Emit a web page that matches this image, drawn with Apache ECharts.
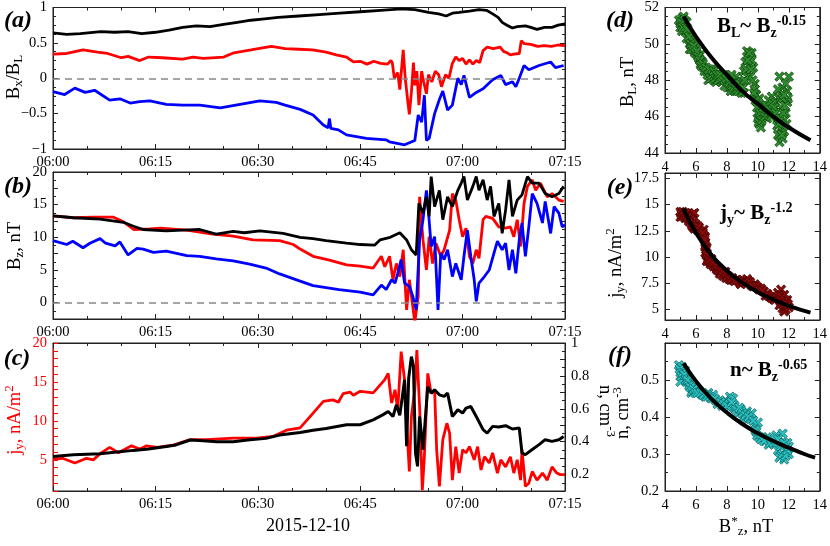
<!DOCTYPE html>
<html><head><meta charset="utf-8">
<script src="https://cdn.jsdelivr.net/npm/echarts@6/dist/echarts.min.js"></script>
<style>html,body{margin:0;padding:0;background:#fff}#c{width:830px;height:546px}</style>
</head><body><div id="c"></div><script>
const F = 'Liberation Serif';
const timeLabels = ['06:00','06:15','06:30','06:45','07:00','07:15'];

// ---- panel (a): Bx/BL, time in minutes after 06:00 ----
const aBlack = [[0,0.64],[2,0.62],[4,0.63],[7,0.66],[9,0.65],[11,0.66],[13,0.63],[15,0.65],[17,0.68],[19,0.72],[21,0.74],[23,0.73],[25,0.76],[27,0.79],[29,0.82],[31,0.84],[33,0.86],[36,0.88],[39,0.90],[42,0.92],[45,0.94],[48,0.96],[51,0.98],[53,0.97],[55,0.93],[56.5,0.91],[57.6,0.88],[58.5,0.92],[59.5,0.93],[61,0.95],[62.4,0.97],[63.5,0.96],[64.4,0.91],[65.2,0.86],[65.8,0.79],[66.5,0.75],[67.3,0.71],[68,0.73],[69.2,0.74],[70,0.72],[70.9,0.69],[72,0.72],[73.1,0.72],[74,0.75],[75,0.77]];
const aRed = [[0,0.34],[2,0.35],[4.4,0.40],[6.5,0.37],[8,0.35],[10,0.29],[11,0.31],[12.7,0.25],[14,0.30],[16,0.29],[19,0.27],[20.5,0.30],[22,0.28],[25,0.30],[26.5,0.36],[29,0.40],[32,0.45],[34,0.42],[36,0.41],[38,0.40],[40,0.37],[41.5,0.33],[43,0.30],[44,0.23],[45,0.24],[46,0.20],[47,0.24],[48,0.21],[49,0.20],[49.5,0.25],[49.7,0.22],[50,0.0],[50.5,0.08],[50.8,-0.16],[51.3,0.40],[51.6,0.0],[52,-0.35],[52.2,-0.51],[52.5,-0.2],[52.8,0.22],[53,-0.1],[53.3,0.1],[53.6,-0.38],[54,0.1],[54.3,-0.05],[54.7,-0.22],[55,0.05],[55.5,-0.05],[56,0.1],[56.5,0.05],[56.9,-0.12],[57.5,0.05],[58,0.0],[58.5,0.21],[59,0.30],[59.5,0.25],[60,0.28],[60.5,0.2],[61,0.26],[61.5,0.2],[62,0.25],[62.5,0.22],[63,0.39],[63.6,0.44],[64.5,0.42],[65.5,0.44],[66,0.38],[66.5,0.36],[67,0.33],[67.5,0.34],[68.3,0.35],[68.6,0.53],[69,0.49],[70,0.48],[71,0.45],[72,0.46],[73,0.45],[74,0.47],[75,0.46]];
const aBlue = [[0,-0.19],[1.7,-0.23],[3.2,-0.14],[4.7,-0.2],[6.1,-0.17],[8.3,-0.31],[9.8,-0.29],[11.3,-0.35],[12.7,-0.33],[14.2,-0.32],[16.6,-0.37],[19,-0.38],[21.5,-0.38],[24.5,-0.42],[27.4,-0.37],[30.3,-0.32],[32.7,-0.34],[34,-0.38],[36.2,-0.44],[38.1,-0.52],[39.6,-0.66],[40.3,-0.70],[40.5,-0.57],[40.7,-0.71],[41.8,-0.73],[43,-0.80],[45.9,-0.85],[48.8,-0.87],[49.3,-0.90],[51.5,-0.94],[53,-0.88],[53.5,-0.52],[54,-0.62],[54.4,-0.24],[54.7,-0.88],[55.1,-0.85],[55.9,-0.50],[56.6,-0.30],[57.1,-0.18],[57.8,-0.45],[58.5,-0.38],[59.3,0.0],[59.8,-0.09],[60.2,0.04],[61,-0.27],[62,-0.2],[63,-0.15],[64.4,-0.02],[65.6,0.04],[66.3,-0.09],[67.3,-0.05],[67.8,-0.12],[68.3,0.0],[69,0.18],[69.7,0.12],[71.2,0.18],[72.9,0.23],[73.6,0.15],[74.8,0.18]];

// ---- panel (b): Bz, nT ----
const bBlack = [[0,13.3],[3,13.0],[6.9,12.8],[10.3,12.3],[11.8,11.7],[13.2,11.2],[16.6,11.0],[19,11.1],[21.5,11.2],[23.9,10.5],[26.4,10.9],[28,10.7],[30.3,11.0],[33.7,10.6],[36.2,10.0],[38.1,9.8],[40,9.5],[43,9.1],[45,8.9],[47.1,8.8],[47.9,9.6],[49.4,10.0],[50.8,10.7],[51.8,9.6],[52.5,8.1],[53.2,7.3],[53.6,15.2],[54.2,13.7],[54.7,16.2],[55.1,13.2],[55.4,19.3],[55.9,14.7],[56.6,17.2],[57.1,12.7],[57.8,16.2],[58.5,14.7],[59.3,17.2],[59.8,18.3],[60.2,19.3],[60.7,15.7],[61.5,17.8],[62,19.3],[62.4,17.2],[63,18.8],[63.6,15.7],[64.1,17.8],[64.6,13.2],[65.3,15.2],[65.8,10.6],[66.3,14.2],[66.8,18.8],[67.3,13.2],[68,15.7],[68.7,16.5],[69.5,19.3],[70.2,18.3],[71.2,18.3],[72.1,16.7],[73.1,16.2],[74.1,16.7],[74.8,17.8]];
const bRed = [[0,13.3],[3,13.0],[5.9,13.1],[8.8,13.1],[10.3,12.4],[11.8,11.2],[14.2,11.3],[15.7,11.4],[19.6,11.1],[23.4,10.5],[26.4,10.2],[29.3,9.6],[33.2,9.5],[35.2,8.9],[36.2,8.2],[38.1,7.1],[40.5,6.5],[43,5.8],[45,5.6],[46.9,5.3],[48.1,7.1],[48.6,5.5],[49.3,7.1],[49.8,3.5],[50.3,6.0],[50.8,4.0],[51.3,8.1],[51.8,-1.1],[52.2,3.5],[53,-3],[53.5,1.0],[53.7,16.2],[54.2,9.6],[54.7,5.0],[55.1,10.1],[55.6,6.0],[56.1,9.1],[56.8,7.1],[57.3,8.1],[58.1,11.1],[58.5,16.7],[59,15.7],[59.5,12.7],[60,10.1],[60.5,11.4],[61,7.1],[61.5,6.0],[62,8.1],[62.4,6.8],[63,12.7],[63.4,13.2],[64.4,12.9],[65.3,11.6],[66.3,11.4],[67,11.6],[67.5,10.1],[68,12.7],[68.5,8.6],[69,15.2],[69.5,17.8],[70.2,18.8],[70.7,17.2],[71.4,18.3],[72.4,16.2],[73.1,16.7],[74.1,15.7],[74.8,15.5]];
const bBlue = [[0,9.5],[2,8.9],[2.9,9.4],[4.4,8.4],[5.4,9.1],[6.9,9.8],[7.7,9.1],[9.1,8.7],[9.8,9.3],[11,7.3],[12.3,8.3],[13.2,8.2],[14.7,7.7],[16.6,7.9],[19.6,7.2],[21.5,7.1],[23.9,6.7],[26.4,6.4],[28.8,5.9],[31.2,5.3],[33.2,4.4],[36.2,3.3],[38.1,2.6],[41.9,2.0],[45,1.6],[46.9,1.2],[48.1,2.7],[48.8,2.0],[49.6,3.5],[50.1,3.0],[50.5,4.5],[51,6.6],[51.5,3.0],[52.2,2.5],[52.7,1.0],[53.2,-1.1],[53.7,9.6],[54.2,12.7],[54.7,17.2],[54.9,15.2],[55.4,8.6],[55.9,10.1],[56.4,-1.1],[56.8,7.6],[57.3,6.6],[57.8,8.1],[58.5,4.0],[59,6.0],[59.8,3.5],[60.2,7.1],[60.7,11.1],[61.2,7.1],[61.7,3.5],[62,0.2],[62.4,3.0],[63.2,4.0],[63.9,5.0],[64.6,7.6],[65.1,9.4],[65.8,8.1],[66.3,9.1],[66.8,5.0],[67.3,8.1],[67.8,4.5],[68.3,9.6],[68.7,12.2],[69.2,7.1],[69.7,11.6],[70.2,16.7],[70.9,15.2],[71.7,12.2],[72.1,15.5],[72.9,10.6],[73.4,14.7],[74.1,13.7],[74.6,11.6],[75,11.9]];

// ---- panel (c): jy (left, red) and n (right, black) ----
const cJy = [[0,5.1],[1.4,5.2],[3.2,4.6],[4.9,5.2],[5.9,5.0],[6.9,5.8],[8.3,6.6],[9.6,5.9],[11.5,6.8],[12.7,6.4],[13.7,6.8],[15.2,6.6],[17.6,6.9],[20.1,7.6],[22.5,7.6],[26.4,7.8],[29.8,7.8],[32.2,8.0],[34.2,8.8],[36.2,9.1],[38.1,11.0],[39.6,12.5],[41,12.7],[41.8,12.4],[42.5,13.5],[43.5,13.7],[44,13.3],[45,13.8],[46,13.7],[46.9,13.6],[47.9,14.6],[48.6,15.3],[49.1,16.1],[49.6,12.3],[50.1,14.0],[50.5,11.4],[51,18.9],[51.5,15.3],[51.8,9.7],[52.2,3.5],[52.5,10.6],[53,14.0],[53.3,19.1],[53.7,11.8],[54.1,1.1],[54.4,5.4],[54.9,16.1],[55.4,13.5],[55.9,14.0],[56.2,6.3],[56.6,1.6],[57.1,7.6],[57.7,9.7],[58.1,8.4],[58.5,2.4],[59,6.7],[59.5,3.3],[60,6.3],[60.5,5.9],[61,6.7],[61.7,5.0],[62.2,6.7],[62.7,3.7],[63.2,5.4],[63.9,4.6],[64.4,5.9],[65.1,3.3],[65.6,5.0],[66.3,4.1],[67,5.4],[67.5,3.3],[68,5.0],[68.5,2.4],[68.7,6.3],[69.2,1.6],[69.7,2.0],[70.2,3.5],[70.9,2.4],[71.7,3.3],[72.4,2.4],[73.1,4.1],[73.8,3.3],[74.3,3.1],[75,3.1]];
const cN = [[0,0.31],[3,0.32],[6.9,0.327],[9,0.335],[11.8,0.347],[14,0.355],[16.6,0.37],[18,0.38],[20.1,0.41],[22,0.405],[24,0.40],[26.4,0.40],[28.5,0.41],[31.2,0.42],[33.2,0.44],[36.2,0.456],[38.1,0.47],[40,0.48],[43,0.503],[45,0.503],[46.9,0.533],[48.3,0.563],[49.1,0.584],[49.8,0.553],[50.3,0.624],[50.8,0.56],[51.5,0.776],[51.8,0.372],[52.1,0.786],[52.5,0.917],[52.8,0.86],[53.1,0.33],[53.4,0.25],[53.7,0.553],[54.2,0.352],[54.6,0.574],[54.9,0.735],[55.4,0.695],[55.9,0.715],[56.6,0.685],[57.3,0.675],[57.8,0.695],[58.5,0.553],[59.3,0.594],[60,0.574],[60.5,0.604],[61.2,0.614],[62,0.553],[63,0.473],[63.6,0.452],[64.4,0.493],[65.3,0.489],[66.3,0.497],[67.3,0.477],[68.3,0.483],[68.7,0.331],[69.2,0.321],[70.2,0.352],[71.2,0.382],[72.1,0.412],[73.1,0.402],[74.1,0.412],[74.8,0.432]];

// ---- panel (d): BL vs Bz* ----
const dPts = [[4.9,51.3],[5.0,50.9],[5.1,51.4],[5.2,51.0],[5.0,51.1],[5.3,50.7],[5.2,51.5],[5.4,51.2],[5.5,50.6],[5.1,50.7],[5.4,50.3],[5.6,50.2],[5.7,49.9],[5.8,50.1],[5.9,49.6],[6.0,49.8],[5.6,49.7],[6.1,49.4],[6.2,49.2],[6.3,48.9],[6.4,49.0],[6.5,48.7],[6.3,49.4],[6.7,48.5],[6.9,48.3],[7.0,48.6],[7.2,48.2],[7.4,48.4],[7.6,48.1],[7.8,48.3],[7.3,47.9],[6.8,48.0],[8.0,47.9],[8.2,47.6],[8.4,47.9],[8.5,47.4],[8.7,47.8],[8.9,47.5],[9.1,47.3],[8.6,48.2],[8.3,48.3],[9.0,47.9],[9.1,48.5],[9.2,49.0],[9.3,49.6],[9.4,48.8],[9.5,49.3],[9.6,49.5],[9.7,48.7],[9.5,48.2],[9.3,48.2],[9.6,49.1],[9.8,47.8],[9.9,47.2],[10.0,46.8],[9.8,47.5],[10.1,47.0],[10.0,46.2],[10.1,45.6],[10.2,45.4],[10.0,45.9],[10.3,46.1],[10.2,46.6],[10.5,46.3],[10.6,45.9],[10.8,46.6],[10.9,47.1],[11.0,46.3],[11.1,46.8],[10.7,46.9],[11.3,45.0],[11.4,44.6],[11.5,45.4],[11.3,46.0],[11.6,44.8],[11.7,45.8],[11.5,46.5],[11.4,47.0],[11.8,46.2],[11.9,47.4],[11.6,47.6],[11.4,48.2],[12.0,48.2],[11.9,46.8],[11.7,45.2],[11.5,47.2],[11.8,47.8],
  [5.05,51.2],[5.15,50.9],[5.25,51.3],[5.35,50.9],[5.45,50.8],[5.55,50.4],[5.65,50.0],[5.75,49.7],[5.85,49.9],[5.95,49.5],[6.05,49.6],[6.15,49.3],[6.25,49.1],[6.35,48.8],[6.45,48.9],[6.55,48.5],[6.65,48.7],[6.75,48.3],[6.85,48.6],[6.95,48.1],[7.05,48.3],[7.15,48.5],[7.25,48.1],[7.35,48.3],[7.45,48.0],[7.55,48.3],[7.65,47.9],[7.75,48.0],[7.85,47.7],[7.95,48.1],[8.05,47.6],[8.15,47.9],[8.25,47.4],[8.35,47.7],[8.45,47.6],[8.55,47.9],[8.65,47.5],[8.75,47.4],[8.85,47.8],[8.95,47.3],[9.05,47.6],[9.15,48.0],[9.25,48.6],[9.35,49.1],[9.45,49.5],[9.55,48.6],[9.65,48.0],[9.75,47.3],[9.85,46.9],[9.95,46.5],[10.05,45.7],[10.15,46.2],[10.25,45.8],[10.35,46.5],[10.45,46.0],[10.55,46.6],[10.65,46.2],[10.75,46.4],[10.85,46.0],[10.95,46.7],[11.05,46.5],[11.15,46.2],[11.25,45.5],[11.35,45.6],[11.45,45.9],[11.55,45.0],[11.65,46.2],[11.75,46.6],[11.85,45.6],[11.95,47.0],[11.6,47.0],[11.3,47.5],[11.7,47.2]];
const dFit = [[5.2,51.5],[6,50.4],[7,49.25],[8,48.3],[9,47.4],[10,46.7],[11,46.0],[12,45.4],[13.4,44.7]];

// ---- panel (e): jy vs Bz* ----
const ePts = [[5.0,14.3],[5.1,13.9],[5.2,14.2],[5.3,13.7],[5.4,14.1],[5.5,13.6],[5.0,13.8],[5.6,14.0],[5.8,14.1],[5.9,14.2],[5.7,13.2],[5.8,12.9],[6.0,13.1],[6.1,12.6],[5.9,12.7],[6.2,12.8],[6.3,12.4],[6.4,12.1],[6.5,12.6],[6.6,11.9],[6.6,11.4],[6.7,10.9],[6.6,10.4],[6.8,10.0],[6.7,9.6],[6.9,9.5],[7.1,9.3],[7.3,9.0],[7.0,9.8],[7.4,8.9],[7.6,8.6],[7.8,8.3],[8.0,8.1],[8.2,8.0],[8.4,7.8],[7.9,8.6],[8.6,7.8],[8.8,7.6],[9.0,7.8],[9.2,7.5],[9.4,7.7],[9.6,7.3],[9.8,7.4],[10.0,7.1],[9.3,7.9],[8.9,7.4],[10.2,7.0],[10.4,6.7],[10.6,6.5],[10.8,6.2],[11.0,6.0],[10.5,6.3],[11.3,6.6],[11.4,6.1],[11.5,5.6],[11.6,5.1],[11.7,4.8],[11.8,5.4],[11.9,5.9],[11.5,6.9],[11.7,6.4],[11.4,5.4],[11.8,5.0],[12.0,5.2],
  [5.05,14.1],[5.15,14.3],[5.25,13.9],[5.35,14.2],[5.45,13.8],[5.55,13.4],[5.65,13.6],[5.75,13.0],[5.85,13.3],[5.95,12.9],[6.05,12.8],[6.15,12.9],[6.25,12.5],[6.35,12.2],[6.45,12.3],[6.55,11.7],[6.6,11.1],[6.65,10.7],[6.7,10.2],[6.75,9.8],[6.85,9.7],[6.95,9.3],[7.05,9.5],[7.15,9.1],[7.25,9.2],[7.35,8.8],[7.45,8.7],[7.55,8.4],[7.65,8.5],[7.75,8.2],[7.85,8.4],[7.95,8.0],[8.05,8.2],[8.15,7.9],[8.25,7.8],[8.35,8.0],[8.5,7.7],[8.7,7.8],[9.1,7.6],[9.5,7.6],[9.7,7.2],[9.9,7.2],[10.1,6.9],[10.3,6.8],[10.7,6.3],[10.9,6.1],[11.1,5.9],[11.35,6.3],[11.45,5.8],[11.55,6.2],[11.65,5.5],[11.75,5.9],[11.85,5.6],[11.95,5.5]];
const eFit = [[5.2,14.6],[6,12.3],[7,10.2],[8,8.7],[9,7.55],[10,6.65],[11,5.95],[12,5.35],[13.4,4.7]];

// ---- panel (f): n vs Bz* ----
const fPts = [[4.9,0.54],[5.0,0.52],[5.1,0.535],[5.2,0.505],[5.3,0.525],[5.0,0.495],[5.4,0.51],[5.5,0.495],[5.6,0.49],[5.8,0.475],[5.7,0.465],[6.0,0.47],[5.9,0.485],[6.2,0.47],[6.4,0.46],[6.6,0.455],[6.8,0.465],[7.0,0.45],[7.1,0.46],[7.3,0.445],[7.5,0.44],[7.7,0.43],[7.9,0.445],[8.1,0.425],[8.2,0.455],[8.4,0.45],[8.5,0.43],[8.7,0.41],[8.9,0.42],[9.1,0.40],[9.3,0.415],[9.5,0.395],[9.6,0.41],[9.0,0.395],[9.8,0.375],[9.9,0.36],[10.1,0.345],[10.0,0.385],[10.3,0.345],[10.5,0.335],[10.7,0.325],[10.9,0.335],[10.6,0.345],[11.2,0.35],[11.4,0.33],[11.3,0.31],[11.5,0.295],[11.7,0.285],[11.8,0.31],[11.9,0.33],[11.6,0.355],[12.0,0.30],[11.4,0.29],
  [4.95,0.53],[5.05,0.51],[5.15,0.52],[5.25,0.515],[5.35,0.50],[5.45,0.50],[5.55,0.485],[5.65,0.48],[5.75,0.47],[5.85,0.475],[5.95,0.465],[6.1,0.465],[6.3,0.465],[6.5,0.46],[6.7,0.455],[6.9,0.455],[7.2,0.45],[7.4,0.435],[7.6,0.44],[7.8,0.435],[8.0,0.43],[8.3,0.44],[8.6,0.42],[8.8,0.425],[9.0,0.41],[9.2,0.405],[9.4,0.40],[9.7,0.39],[9.85,0.365],[9.95,0.35],[10.2,0.34],[10.4,0.335],[10.8,0.33],[11.0,0.33],[11.1,0.34],[11.3,0.34],[11.5,0.32],[11.6,0.30],[11.7,0.33],[11.8,0.295],[11.9,0.31],[12.0,0.32]];
const fFit = [[5.2,0.545],[6,0.497],[7,0.449],[8,0.412],[9,0.381],[10,0.356],[11,0.335],[12,0.317],[13,0.300],[13.7,0.290]];

// tick labels
const bTicks = [0,5,10,15,20];
const cLeftTicks = [5,10,15,20];
const cRightTicks = [0.2,0.4,0.6,0.8,1];
const eTicks = [5,7.5,10,12.5,15,17.5];
const fTicks = [0.2,0.3,0.4,0.5];

const LC = '#222';
const grids = [
  {left:53, top:7, width:512, height:142},
  {left:53, top:172, width:512, height:147},
  {left:53, top:343, width:512, height:148},
  {left:665, top:5, width:157, height:148},
  {left:665, top:173, width:157, height:147},
  {left:665, top:343, width:157, height:148}
];

function axis(kind, g, pos, min, max, o) {
  o = o || {};
  const col = o.color || LC;
  const a = {
    type:'value', gridIndex:g, position:pos, min:min, max:max,
    axisLine:{show:true, onZero:false, lineStyle:{color:col, width:1}},
    axisTick:{show:true, inside:true, length:5, lineStyle:{color:col}},
    minorTick:{show: o.minor != null, splitNumber:o.minor || 2, length:3, lineStyle:{color:col}},
    splitLine:{show:false},
    axisLabel:{show: !!o.labels, color: o.labelColor || '#000', fontFamily:F, fontSize:14.5, margin: o.margin || 6,
      formatter: o.fmt || (v => String(+v.toFixed(3)).replace('-', '\u2212'))}
  };
  if (o.interval != null) a.interval = o.interval;
  if (o.custom) { a.axisLabel.customValues = o.custom; }
  if (o.tickCustom) { a.axisTick.customValues = o.tickCustom; }
  return a;
}
const tfmt = v => timeLabels[Math.round(v / 15)];

const xAxes = [];
const yAxes = [];
for (let g = 0; g < 3; g++) {
  xAxes.push(axis('x', g, 'bottom', 0, 75, {interval:15, minor:3, labels:true, fmt:tfmt}));
  xAxes.push(axis('x', g, 'top', 0, 75, {interval:15, minor:3}));
}
for (let g = 3; g < 6; g++) {
  xAxes.push(axis('x', g, 'bottom', 4, 14, {interval:2, minor:2, labels:true, margin:7}));
  xAxes.push(axis('x', g, 'top', 4, 14, {interval:2, minor:2}));
}
yAxes.push(axis('y', 0, 'left', -1, 1, {interval:0.5, minor:4, labels:true}));
yAxes.push(axis('y', 0, 'right', -1, 1, {interval:0.5, minor:4}));
yAxes.push(axis('y', 1, 'left', -2.5, 20, {interval:2.5, minor:2, labels:true, custom:bTicks}));
yAxes.push(axis('y', 1, 'right', -2.5, 20, {interval:2.5, minor:2}));
yAxes.push(axis('y', 2, 'left', 1, 20, {interval:1, labels:true, custom:cLeftTicks, color:'#ff0000', labelColor:'#ff0000'}));
yAxes.push(axis('y', 2, 'right', 0.1, 1, {interval:0.1, minor:2, labels:true, custom:cRightTicks}));
yAxes.push(axis('y', 3, 'left', 44, 52, {interval:2, minor:4, labels:true}));
yAxes.push(axis('y', 3, 'right', 44, 52, {interval:2, minor:4}));
yAxes.push(axis('y', 4, 'left', 4, 18, {interval:0.5, labels:true, custom:eTicks, tickCustom:eTicks}));
yAxes.push(axis('y', 4, 'right', 4, 18, {interval:0.5, tickCustom:eTicks}));
yAxes.push(axis('y', 5, 'left', 0.2, 0.6, {interval:0.1, minor:2, labels:true, custom:fTicks}));
yAxes.push(axis('y', 5, 'right', 0.2, 0.6, {interval:0.1, minor:2}));

function line(xi, yi, data, color, w, extra) {
  return Object.assign({type:'line', xAxisIndex:xi, yAxisIndex:yi, data:data, symbol:'none', showSymbol:false,
    lineStyle:{color:color, width:w}, itemStyle:{color:color}, animation:false, clip:true, z:3}, extra || {});
}
const zeroLine = {silent:true, symbol:['none','none'], label:{show:false}, animation:false,
  lineStyle:{color:'#888', type:[7,5], width:1.5}, data:[{yAxis:0}]};
const XS = 'path://M2,0 L5,3 L8,0 L10,2 L7,5 L10,8 L8,10 L5,7 L2,10 L0,8 L3,5 L0,2 Z';
function scat(xi, yi, data, fill, border) {
  return {type:'scatter', xAxisIndex:xi, yAxisIndex:yi, data:data, symbol:XS, symbolSize:9.5,
    itemStyle:{color:fill, borderColor:border, borderWidth:0.7, opacity:1}, animation:false, z:2};
}

const series = [
  line(0, 0, aBlack, '#000', 2.8, {markLine: zeroLine}),
  line(0, 0, aRed, '#ff0000', 2.8),
  line(0, 0, aBlue, '#0000ff', 2.8),
  line(2, 2, bRed, '#ff0000', 2.8, {markLine: zeroLine}),
  line(2, 2, bBlue, '#0000ff', 2.8),
  line(2, 2, bBlack, '#000', 2.8),
  line(4, 4, cJy, '#ff0000', 2.8),
  line(4, 5, cN, '#000', 3),
  scat(6, 6, dPts, '#2e8b2e', '#0b3d0b'),
  line(6, 6, dFit, '#000', 4, {smooth:true}),
  scat(8, 8, ePts, '#8b0a0a', '#3a0000'),
  line(8, 8, eFit, '#000', 4, {smooth:true}),
  scat(10, 10, fPts, '#2bc0c0', '#0d5c5c'),
  line(10, 10, fFit, '#000', 4, {smooth:true})
];

function R(fs, color, weight) {
  const s = Math.round(fs * 0.68), p = Math.round(fs * 0.55);
  const base = {fontFamily:F, fill:color, fontWeight:weight};
  return {
    n: Object.assign({fontSize:fs}, base),
    s: Object.assign({fontSize:s, padding:[p,0,0,0]}, base),
    u: Object.assign({fontSize:s, padding:[0,0,p,0]}, base)
  };
}
function T(x, y, text, fs, o) {
  o = o || {};
  return {type:'text', x:x, y:y, rotation:o.rot || 0, z:100, silent:true,
    style:{text:text, fontFamily:F, fontSize:fs, fontWeight:o.fw || 'normal', fontStyle:o.fst || 'normal',
      fill:o.fill || '#000', align:o.align || 'center', verticalAlign:'middle', rich:o.rich}};
}
const H = Math.PI / 2;
const TS = 18.5;
const graphics = [
  T(18, 21, '(a)', 24, {fw:'bold', fst:'italic'}),
  T(18, 187, '(b)', 24, {fw:'bold', fst:'italic'}),
  T(17, 359, '(c)', 24, {fw:'bold', fst:'italic'}),
  T(620, 21, '(d)', 24, {fw:'bold', fst:'italic'}),
  T(620, 188, '(e)', 24, {fw:'bold', fst:'italic'}),
  T(620, 356, '(f)', 24, {fw:'bold', fst:'italic'}),
  T(14, 77, '{n|B}{s|x}{n|/B}{s|L}', TS, {rot:H, rich:R(TS,'#000','normal')}),
  T(15, 246, '{n|B}{s|z}{n|, nT}', TS, {rot:H, rich:R(TS,'#000','normal')}),
  T(15, 420, '{n|j}{s|y}{n|, nA/m}{u|2}', TS, {rot:H, rich:R(TS,'#ff0000','normal')}),
  T(605, 411, '{n|n, cm}{u|-3}', TS, {rot:-H, rich:R(TS,'#000','normal')}),
  T(628, 82, '{n|B}{s|L}{n|, nT}', TS, {rot:H, rich:R(TS,'#000','normal')}),
  T(616, 263, '{n|j}{s|y}{n|, nA/m}{u|2}', TS, {rot:H, rich:R(TS,'#000','normal')}),
  T(623, 413, '{n|n, cm}{u|-3}', TS, {rot:H, rich:R(TS,'#000','normal')}),
  T(746, 527, '{n|B}{u|*}{s|z}{n|, nT}', TS, {rich:R(TS,'#000','normal')}),
  T(308, 526, '2015-12-10', 18),
  T(717, 27, '{n|B}{s|L}{n|~ B}{s|z}{u|-0.15}', 21, {align:'left', rich:R(21,'#000','bold')}),
  T(720, 214, '{n|j}{s|y}{n|~ B}{s|z}{u|-1.2}', 21, {align:'left', rich:R(21,'#000','bold')}),
  T(730, 371, '{n|n~ B}{s|z}{u|-0.65}', 21, {align:'left', rich:R(21,'#000','bold')})
];

const chart = echarts.init(document.getElementById('c'), null, {renderer:'canvas'});
chart.setOption({
  animation:false,
  backgroundColor:'#fff',
  grid: grids.map(g => Object.assign({show:true, borderColor:LC, borderWidth:1, backgroundColor:'transparent'}, g)),
  xAxis: xAxes,
  yAxis: yAxes,
  series: series,
  graphic: graphics
});
</script></body></html>
